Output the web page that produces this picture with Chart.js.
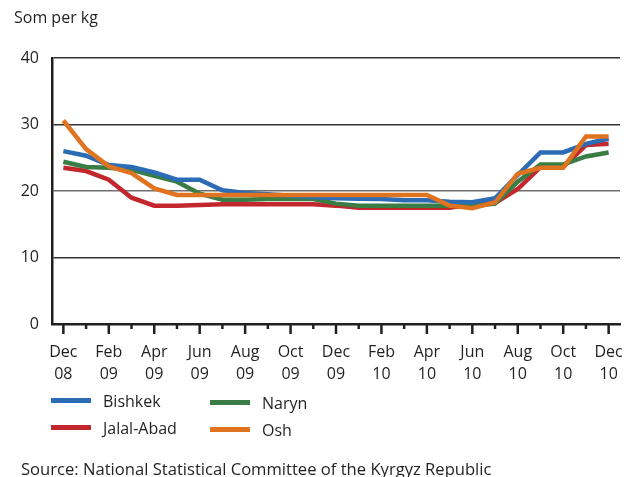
<!DOCTYPE html>
<html>
<head>
<meta charset="utf-8">
<script src="https://cdn.jsdelivr.net/npm/chart.js@4.4.1/dist/chart.umd.min.js"></script>
<style>
  body { margin: 0; background: #fff; font-family: "Open Sans", sans-serif; color: #231f20; }
  #wrap { position: relative; width: 626px; height: 477px; overflow: hidden; }
  #unit { position: absolute; left: 14px; top: 6px; font-size: 16px; }
  .leg { position: absolute; font-size: 16px; line-height: 20px; }
  .sw { position: absolute; width: 40px; height: 5px; }
  #source { position: absolute; left: 21px; top: 457px; font-size: 16.6px; white-space: nowrap; }
</style>
</head>
<body>
<div id="wrap">
  <canvas id="priceChart" width="626" height="477"></canvas>
  <div id="unit">Som per kg</div>
  <div id="legend"></div>
  <div id="source">Source: National Statistical Committee of the Kyrgyz Republic</div>
</div>
<script>
// Dec 2008 .. Dec 2010, monthly
const months = ['Dec','Jan','Feb','Mar','Apr','May','Jun','Jul','Aug','Sep','Oct','Nov',
                'Dec','Jan','Feb','Mar','Apr','May','Jun','Jul','Aug','Sep','Oct','Nov','Dec'];
const years  = ['08','09','09','09','09','09','09','09','09','09','09','09',
                '09','10','10','10','10','10','10','10','10','10','10','10','10'];

const bishkek   = [26.0, 25.3, 23.9, 23.6, 22.8, 21.7, 21.7, 20.1, 19.7, 19.5, 19.3, 19.1,
                   18.9, 18.85, 18.8, 18.6, 18.6, 18.4, 18.3, 18.9, 22.4, 25.8, 25.8, 27.1, 27.9];
const jalalAbad = [23.5, 23.0, 21.7, 19.0, 17.8, 17.8, 17.9, 18.0, 18.0, 18.0, 18.0, 18.0,
                   17.8, 17.5, 17.5, 17.5, 17.5, 17.5, 18.0, 18.2, 20.3, 23.6, 23.6, 26.9, 27.1];
const naryn     = [24.4, 23.6, 23.5, 23.2, 22.3, 21.4, 19.6, 18.7, 18.7, 18.8, 18.8, 18.8,
                   18.1, 17.8, 17.8, 17.8, 17.8, 17.8, 17.7, 18.1, 21.4, 24.0, 24.0, 25.2, 25.8];
const osh       = [30.6, 26.3, 23.7, 22.7, 20.4, 19.4, 19.4, 19.4, 19.4, 19.4, 19.4, 19.4,
                   19.4, 19.4, 19.4, 19.4, 19.4, 17.8, 17.4, 18.3, 22.6, 23.5, 23.5, 28.2, 28.2];

const seriesNames = ['Bishkek', 'Jalal-Abad', 'Naryn', 'Osh'];
const colors = ['#2b6cb5', '#c1272d', '#3a7d44', '#e0731f'];

// legend (2 columns)
const legPos = [[51, 400], [51, 427], [210, 402], [210, 429]];
let legHtml = '';
seriesNames.forEach((n, i) => {
    const p = legPos[i];
    legHtml += '<div class="sw" style="left:' + p[0] + 'px;top:' + (p[1] - 2) + 'px;background:' + colors[i] + '"></div>';
    legHtml += '<div class="leg" style="left:' + (p[0] + 52) + 'px;top:' + (p[1] - 9) + 'px">' + n + '</div>';
});
document.getElementById('legend').innerHTML = legHtml;

// small/large tick marks under the x axis
const tickMarks = {
    id: 'tickMarks',
    afterDraw(chart) {
        const xs = chart.scales.x, ctx = chart.ctx;
        ctx.save();
        ctx.strokeStyle = '#231f20';
        ctx.lineWidth = 2.5;
        months.forEach((m, i) => {
            const px = xs.getPixelForValue(i);
            const len = i % 2 === 0 ? 10 : 5;
            ctx.beginPath();
            ctx.moveTo(px, xs.top);
            ctx.lineTo(px, xs.top + len);
            ctx.stroke();
        });
        ctx.restore();
    }
};

const data = [bishkek, jalalAbad, naryn, osh];
const drawOrder = [1, 3, 2, 0];

new Chart(document.getElementById('priceChart'), {
    type: 'line',
    data: {
        labels: months.map((m, i) => m + ' ' + years[i]),
        datasets: seriesNames.map((n, i) => ({
            label: n,
            data: data[i],
            borderColor: colors[i],
            backgroundColor: colors[i],
            borderWidth: 4.5,
            pointRadius: 0,
            tension: 0,
            order: drawOrder[i]
        }))
    },
    options: {
        responsive: false,
        devicePixelRatio: 1,
        animation: false,
        layout: { padding: { top: 58, right: 6, left: 0, bottom: 0 } },
        plugins: {
            legend: { display: false },
            tooltip: { enabled: false }
        },
        scales: {
            x: {
                offset: true,
                grid: { display: false, drawTicks: false },
                border: { display: true, color: '#231f20', width: 2.5 },
                ticks: {
                    autoSkip: false,
                    maxRotation: 0,
                    padding: 17,
                    color: '#231f20',
                    font: { family: 'Open Sans', size: 16, lineHeight: 1.4 },
                    callback: (v, i) => i % 2 === 0 ? [months[i], years[i]] : ''
                },
                afterFit: (scale) => {
                    scale.height = 153;
                    scale.paddingLeft = 0;
                    scale.paddingRight = 0;
                }
            },
            y: {
                min: 0,
                max: 40,
                ticks: {
                    stepSize: 10,
                    padding: 13,
                    color: '#231f20',
                    font: { family: 'Open Sans', size: 16 }
                },
                grid: {
                    drawTicks: false,
                    lineWidth: 1.6,
                    color: (c) => c.tick.value === 0 ? 'rgba(0,0,0,0)' : (c.tick.value === 20 ? '#6f6f6f' : '#333')
                },
                border: { color: '#231f20', width: 2.5 },
                afterFit: (scale) => { scale.width = 52; }
            }
        }
    },
    plugins: [tickMarks]
});
</script>
</body>
</html>
